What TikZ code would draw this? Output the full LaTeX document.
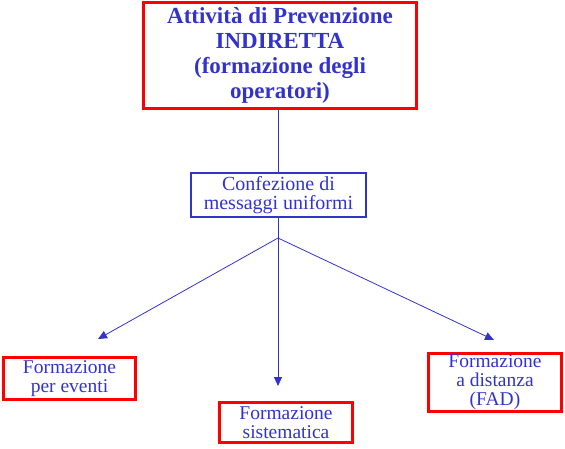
\documentclass[tikz,border=0pt]{standalone}
\usepackage{fontspec}
\setmainfont{Liberation Serif}
\usetikzlibrary{arrows.meta}

\definecolor{txtblue}{RGB}{51,51,204}

\tikzset{
  redbox/.style={draw=red, line width=3pt, inner sep=0pt, align=center, text=txtblue, font=\fontsize{19.5}{19}\selectfont},
  bluebox/.style={draw=txtblue, line width=2.5pt, inner sep=0pt, align=center, text=txtblue, font=\fontsize{20}{19}\selectfont},
  link/.style={draw=txtblue, line width=0.8pt},
  linkarrow/.style={link, -{Triangle[length=9pt, width=8pt]}}
}

\begin{document}
\begin{tikzpicture}[x=1pt, y=-1pt]

\useasboundingbox (0,0) rectangle (565,448);

\coordinate (S) at (278,238);
\coordinate (L) at (98,339);
\coordinate (M) at (278,386);
\coordinate (R) at (494,340);

\node [redbox, minimum width=273, minimum height=106, font=\fontsize{23}{25}\selectfont\bfseries] (top) at (280,55.5) {Attività di Prevenzione\\INDIRETTA\\(formazione degli\\operatori)};
\node [bluebox, minimum width=175, minimum height=44] (conf) at (278.5,195) {Confezione di\\messaggi uniformi};

\node [redbox, minimum width=132, minimum height=42] (eventi) at (69.5,378.5) {Formazione\\per eventi};
\node [redbox, minimum width=133, minimum height=40] (sist) at (286,422.5) {Formazione\\sistematica};
\node [redbox, minimum width=133, minimum height=58] (fad) at (495,382.5) {Formazione\\a distanza\\(FAD)};

\draw[link] (top.south -| S) -- (conf.north -| S);
\draw[link] (conf.south -| S) -- (S);
\draw[linkarrow] (S) -- (L);
\draw[linkarrow] (S) -- (M);
\draw[linkarrow] (S) -- (R);
\end{tikzpicture}
\end{document}
